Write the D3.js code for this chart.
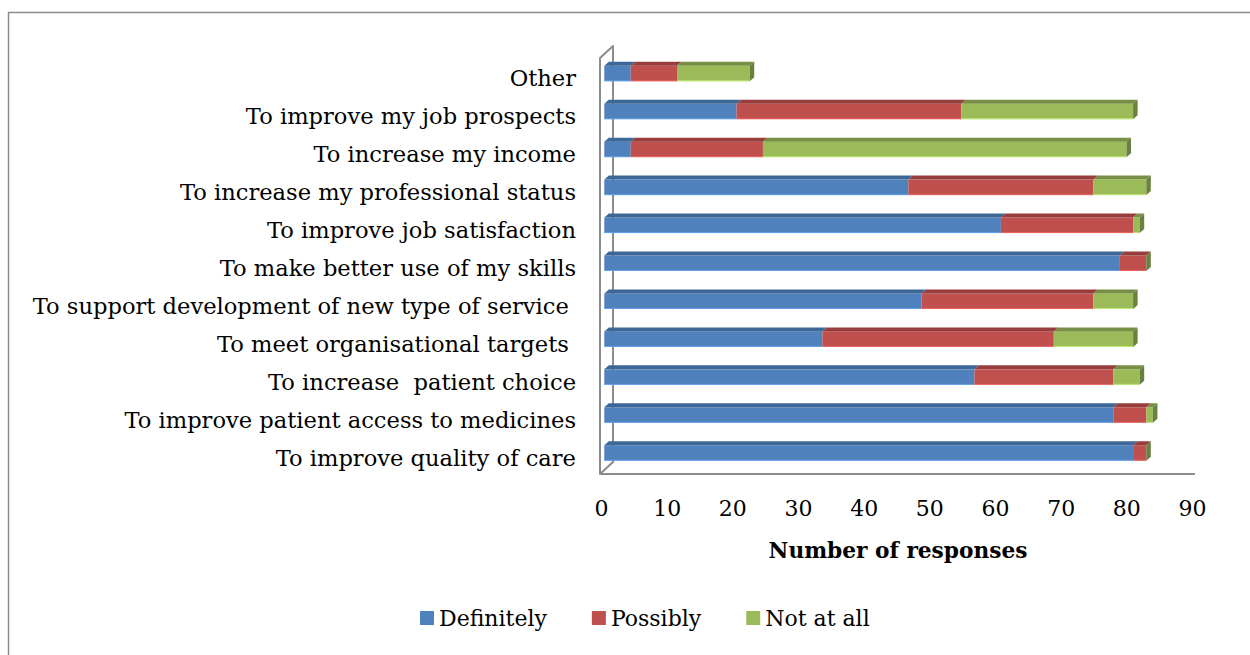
<!DOCTYPE html>
<html>
<head>
<meta charset="utf-8">
<script src="https://cdn.jsdelivr.net/npm/d3@7"></script>
<style>
  html, body { margin: 0; padding: 0; background: #ffffff; }
  svg { display: block; }
  text { font-family: "DejaVu Serif", "Liberation Serif", serif; fill: #000; white-space: pre; }
</style>
</head>
<body>
<svg id="chart" width="1250" height="655"></svg>
<script>
// ---- data ----
const categories = [
  "Other",
  "To improve my job prospects",
  "To increase my income",
  "To increase my professional status",
  "To improve job satisfaction",
  "To make better use of my skills",
  "To support development of new type of service ",
  "To meet organisational targets ",
  "To increase  patient choice",
  "To improve patient access to medicines",
  "To improve quality of care"
];
const definitely = [4, 20, 4, 46, 60, 78, 48, 33, 56, 77, 80];
const possibly   = [7, 34, 20, 28, 20, 4, 26, 35, 21, 5, 2];
const notAtAll   = [11, 26, 55, 8, 1, 0, 6, 12, 4, 1, 0];
const seriesNames = ["Definitely", "Possibly", "Not at all"];
const xTicks = [0, 10, 20, 30, 40, 50, 60, 70, 80, 90];
const axisTitle = "Number of responses";

// ---- style ----
const colors = { "Definitely": "#4F81BD", "Possibly": "#C0504D", "Not at all": "#9BBB59" };
const topColors = { "Definitely": "#3D6797", "Possibly": "#973D3B", "Not at all": "#778F45" };
const sideColors = { "Not at all": "#6A8040", "Possibly": "#8A3735", "Definitely": "#385E8A" };
const fontSize = 22;
const catFontSize = 22.6;

const rows = categories.map((c, i) => ({
  cat: c,
  "Definitely": definitely[i],
  "Possibly": possibly[i],
  "Not at all": notAtAll[i]
}));
const stacked = d3.stack().keys(seriesNames)(rows);

const svg = d3.select("#chart");

// outer border
svg.append("path")
  .attr("d", "M8.5,655 V12.5 H1250")
  .attr("fill", "none").attr("stroke", "#8a8a8a").attr("stroke-width", 1.5);

// scales
const y = d3.scalePoint().domain(categories).range([73.5, 453]);
const x = d3.scaleLinear().domain([0, 90]).range([604.3, 1199.2]);
const xFront = d3.scaleLinear().domain([0, 90]).range([600, 1195]);
const xLab = d3.scaleLinear().domain([0, 90]).range([601, 1192]);
const barH = 15.5;
const dx = 4.5, dy = -4;
const wallDx = 13, wallDy = -12;
const floorY = 474;
const wallTop = 58;

// wall + floor
svg.append("path")
  .attr("d", `M${xFront(0)},${floorY} V${wallTop} L${xFront(0) + wallDx},${wallTop + wallDy} V${floorY + wallDy} L${xFront(0)},${floorY} H${xFront(90)}`)
  .attr("fill", "none").attr("stroke", "#8c8c8c").attr("stroke-width", 2).attr("stroke-linejoin", "round");

// bars
const bars = svg.append("g");
stacked.forEach((layer, si) => {
  const key = layer.key;
  layer.forEach((d, i) => {
    const cy = y(categories[i]);
    const top = cy - barH / 2, bot = cy + barH / 2;
    const x0 = x(d[0]), x1 = x(d[1]);
    if (x1 > x0) {
      bars.append("rect")
        .attr("x", x0).attr("y", top).attr("width", x1 - x0).attr("height", barH)
        .attr("fill", colors[key]);
      bars.append("polygon")
        .attr("points", `${x0},${top} ${x1},${top} ${x1 + dx},${top + dy} ${x0 + dx},${top + dy}`)
        .attr("fill", topColors[key]);
      bars.append("line")
        .attr("x1", x0).attr("x2", x1).attr("y1", bot - 0.5).attr("y2", bot - 0.5)
        .attr("stroke", d3.color(colors[key]).brighter(0.8)).attr("stroke-width", 1).attr("opacity", 0.7);
    }
    if (si === stacked.length - 1) {
      bars.append("polygon")
        .attr("points", `${x1},${top} ${x1 + dx},${top + dy} ${x1 + dx},${bot + dy} ${x1},${bot}`)
        .attr("fill", sideColors[key]);
    }
  });
});

// x axis labels
const xAxis = d3.axisBottom(xLab).tickValues(xTicks).tickSize(0).tickPadding(26);
const gx = svg.append("g").attr("transform", `translate(0,${floorY})`).call(xAxis);
gx.select(".domain").remove();
gx.selectAll("text").attr("font-family", "DejaVu Serif").attr("font-size", fontSize).attr("fill", "#000");

// category labels
const yAxis = d3.axisLeft(y).tickSize(0).tickPadding(0);
const gy = svg.append("g").attr("transform", "translate(576,12)").call(yAxis);
gy.select(".domain").remove();
gy.selectAll("text").attr("font-family", "DejaVu Serif").attr("font-size", catFontSize).attr("fill", "#000")
  .attr("dy", null).style("white-space", "pre");

// axis title
svg.append("text").attr("x", 898).attr("y", 558).attr("text-anchor", "middle")
  .attr("font-size", 21.7).attr("font-weight", "bold").text(axisTitle);

// legend
const leg = svg.append("g").attr("transform", "translate(420,611)");
let lx = 0;
seriesNames.forEach(n => {
  const item = leg.append("g").attr("transform", `translate(${lx},0)`);
  item.append("rect").attr("width", 14).attr("height", 14).attr("fill", colors[n]);
  const t = item.append("text").attr("x", 19).attr("y", 15).attr("font-size", fontSize).text(n);
  lx += 19 + t.node().getComputedTextLength() + 45;
});
</script>
</body>
</html>
